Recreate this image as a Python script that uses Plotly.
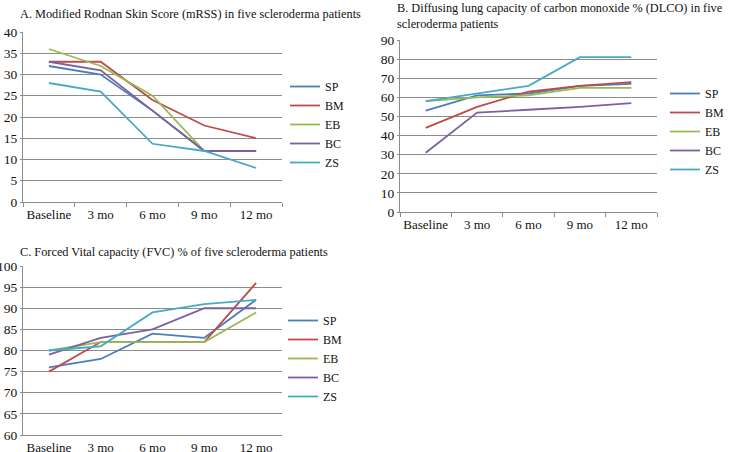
import plotly.graph_objects as go

categories = ["Baseline", "3 mo", "6 mo", "9 mo", "12 mo"]
patients = ["SP", "BM", "EB", "BC", "ZS"]
colors = ["#4A7EBB", "#BE4B48", "#98B954", "#7D60A0", "#46AAC5"]

mrss_SP = [32, 30, 21.5, 12, 12]
mrss_BM = [33, 33, 24, 18, 15]
mrss_EB = [36, 32, 25, 12, 12]
mrss_BC = [33, 31, 21.5, 12, 12]
mrss_ZS = [28, 26, 13.7, 12, 8]

dlco_SP = [53, 61, 62, 66, 67]
dlco_BM = [44, 55, 63, 66, 68]
dlco_EB = [58, 60, 61, 65, 65]
dlco_BC = [31, 52, 53.5, 55, 57]
dlco_ZS = [58, 62, 66, 81, 81]

fvc_SP = [76, 78, 84, 83, 92]
fvc_BM = [75, 82, 82, 82, 96]
fvc_EB = [80, 82, 82, 82, 89]
fvc_BC = [79, 83, 85, 90, 90]
fvc_ZS = [80, 81, 89, 91, 92]

titleA = "A. Modified Rodnan Skin Score (mRSS) in five scleroderma patients"
titleB = "B. Diffusing lung capacity of carbon monoxide % (DLCO) in five<br>scleroderma patients"
titleC = "C. Forced Vital capacity (FVC) % of five scleroderma patients"

W, H = 742, 452
FONT = "Liberation Serif, Times New Roman, serif"

fig = go.Figure()

panels = [
    ([mrss_SP, mrss_BM, mrss_EB, mrss_BC, mrss_ZS], "x", "y", "legend"),
    ([dlco_SP, dlco_BM, dlco_EB, dlco_BC, dlco_ZS], "x2", "y2", "legend2"),
    ([fvc_SP, fvc_BM, fvc_EB, fvc_BC, fvc_ZS], "x3", "y3", "legend3"),
]
for series, xa, ya, lg in panels:
    for name, vals, col in zip(patients, series, colors):
        fig.add_trace(go.Scatter(x=categories, y=vals, name=name, mode="lines",
                                 line=dict(color=col, width=1.8), xaxis=xa, yaxis=ya,
                                 legend=lg))

def px_x(p):
    return p / W

def px_y(p):
    return 1 - p / H

grid = "#8C8C8C"
def xax(x0, x1, anchor, ticks=True):
    return dict(domain=[px_x(x0), px_x(x1)], anchor=anchor, type="category",
                range=[-0.5, 4.5], autorange=False, tickangle=0,
                showgrid=False, showline=True, linecolor=grid, linewidth=1,
                ticks="outside" if ticks else "", ticklen=4, tickcolor=grid,
                tickson="boundaries", automargin=False,
                tickfont=dict(family=FONT, size=13, color="#111"), fixedrange=True)

def yax(y0, y1, anchor, rng, dt):
    return dict(domain=[px_y(y1), px_y(y0)], anchor=anchor, range=rng, dtick=dt,
                showgrid=True, gridcolor=grid, gridwidth=1, showline=True,
                linecolor=grid, linewidth=1, ticks="outside", ticklen=2,
                tickcolor=grid, zeroline=False, automargin=False,
                tickfont=dict(family=FONT, size=13.5, color="#111"), fixedrange=True)

def leg(x, y):
    return dict(x=px_x(x), y=px_y(y), xanchor="left", yanchor="top",
                font=dict(family=FONT, size=12, color="#111"),
                bgcolor="rgba(0,0,0,0)", itemwidth=30, tracegroupgap=0)

fig.update_layout(
    width=W, height=H, margin=dict(l=0, r=0, t=0, b=0),
    plot_bgcolor="white", paper_bgcolor="white",
    font=dict(family=FONT, size=13, color="#111"),
    xaxis=xax(23, 282, "y"), yaxis=yax(32, 202, "x", [0, 40], 5),
    xaxis2=xax(400, 657, "y2"), yaxis2=yax(40, 212, "x2", [0, 90], 10),
    xaxis3=xax(23, 282, "y3", ticks=False), yaxis3=yax(266, 435, "x3", [60, 100], 5),
    legend=leg(285, 72),
    legend2=leg(665, 79),
    legend3=leg(283, 306),
    annotations=[
        dict(text=titleA, x=px_x(18), y=px_y(5), xref="paper", yref="paper",
             xanchor="left", yanchor="top", showarrow=False, align="left",
             font=dict(family=FONT, size=12.3, color="#111")),
        dict(text=titleB, x=px_x(395), y=px_y(-1), xref="paper", yref="paper",
             xanchor="left", yanchor="top", showarrow=False, align="left",
             font=dict(family=FONT, size=12.3, color="#111")),
        dict(text=titleC, x=px_x(18), y=px_y(243), xref="paper", yref="paper",
             xanchor="left", yanchor="top", showarrow=False, align="left",
             font=dict(family=FONT, size=12.3, color="#111")),
    ],
)

fig.write_html("out.html", config={"displayModeBar": False},
               post_script="document.body.style.margin='0';")
